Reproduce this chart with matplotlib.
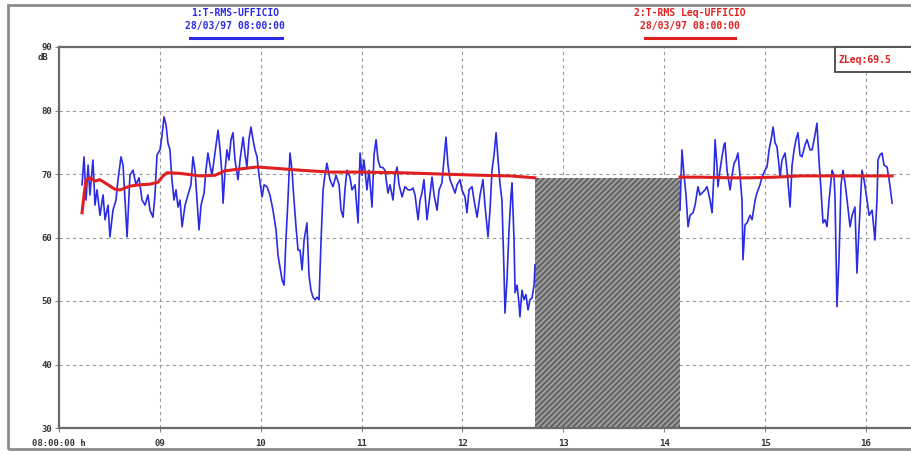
import numpy as np
import matplotlib
matplotlib.use("Agg")
import matplotlib.pyplot as plt
from matplotlib.patches import Rectangle
from matplotlib.lines import Line2D

# ---------------- data (minutes after 08:00:00, level in dB) ----------------
rms_t1 = [13.7, 14.9, 16.1, 17.3, 18.4, 20.2, 21.4, 22.6, 24.4, 26.2, 27.4, 29.2, 30.3, 32.1,
          33.9, 35.1, 36.9, 38.1, 39.3, 40.5, 42.2, 44.0, 45.8, 47.6, 49.4, 51.2, 52.9, 54.1,
          55.9, 57.1, 58.3, 60.1, 61.3, 62.5, 63.7, 64.8, 66.0, 67.2, 68.4, 69.6, 70.8, 72.0,
          73.2, 75.0, 76.7, 78.5, 79.7, 80.9, 82.1, 83.3, 84.5, 86.3, 87.4, 88.6, 89.8, 91.0,
          92.2, 93.4, 94.6, 95.8, 97.0, 97.6, 98.8, 99.9, 101.1, 102.3, 103.5, 104.7, 106.5,
          107.7, 109.5, 110.7, 111.8, 113.0, 114.2, 115.4, 116.6, 117.8, 119.0, 120.8, 122.0,
          123.7, 125.5, 127.3, 129.1, 130.3, 131.5, 132.7, 133.9, 135.0, 136.2, 137.4, 138.6,
          139.8, 141.0, 142.2, 143.4, 144.6, 145.8, 147.5, 148.7, 149.9, 151.1, 152.3, 153.5,
          154.7, 155.9, 157.1, 158.2, 159.4, 161.2, 163.0, 164.8, 166.6, 167.8, 169.0, 170.1,
          171.3, 173.1, 174.3, 176.1, 177.9, 179.1, 180.3, 181.4, 183.2, 184.4, 186.2, 187.4,
          188.6, 189.8, 191.0, 192.7, 193.9, 195.7, 196.9, 198.7, 199.9, 201.1, 202.3, 204.1,
          205.8, 207.6, 209.4, 210.6, 211.8, 213.6, 214.8, 215.9, 217.1, 218.9, 220.7, 221.9,
          223.1, 224.9, 226.1, 227.8, 229.0, 230.2, 231.4, 232.6, 233.8, 235.6, 236.8, 238.6,
          239.7, 241.5, 242.7, 243.9, 245.7, 246.9, 248.7, 250.5, 252.2, 253.4, 255.2, 256.4,
          257.6, 258.8, 260.0, 261.2, 262.4, 263.5, 264.7, 265.3, 266.5, 267.7, 268.9, 269.5,
          270.7, 271.3, 272.5, 273.7, 274.2, 275.4, 276.6, 277.8, 279.0, 280.2, 281.4, 282.6,
          283.2]
rms_v1 = [68.3, 72.7, 65.9, 71.4, 66.7, 72.2, 65.1, 67.5, 63.5, 66.7, 62.8, 65.1, 60.1, 64.3,
          65.9, 69.1, 72.7, 71.4, 65.9, 60.1, 69.8, 70.6, 68.3, 69.4, 65.9, 65.1, 66.7, 64.3,
          63.2, 66.7, 73.0, 73.8, 76.1, 79.0, 77.7, 74.9, 73.8, 69.1, 65.9, 67.5, 64.8, 65.9,
          61.7, 65.1, 66.7, 68.3, 72.7, 70.6, 65.9, 61.2, 65.1, 67.0, 70.6, 73.3, 71.4, 69.8,
          72.2, 74.6, 76.9, 73.8, 69.8, 65.4, 70.6, 73.8, 72.2, 75.4, 76.5, 72.2, 69.1,
          72.2, 75.8, 73.0, 71.1, 75.4, 77.4, 75.4, 73.8, 72.7, 69.8, 66.4, 68.3,
          68.0, 66.7, 64.3, 61.2, 57.2, 55.2, 53.3, 52.5, 59.6, 65.9, 73.3, 70.6,
          65.9, 61.7, 58.0, 58.0, 54.9, 59.6, 62.3, 54.1, 51.7, 50.6, 50.2, 50.6,
          50.2, 59.6, 67.5, 69.8, 71.7, 69.1, 68.0, 69.8, 68.3, 64.3, 63.2, 67.5,
          70.6, 69.5, 67.5, 68.3, 62.3, 73.3, 69.8, 72.2, 67.5, 70.6, 64.8, 73.0,
          75.4, 72.2, 71.1, 71.0, 70.6, 67.0, 68.3, 65.9, 69.8, 71.1, 68.3, 66.4,
          68.0, 67.5, 67.5, 67.8, 66.7, 62.8, 65.9, 67.0, 69.1, 62.8, 66.7, 69.5,
          66.7, 64.3, 67.5, 68.6, 72.2, 75.8, 71.4, 69.1, 68.3, 67.0, 68.3, 69.1,
          67.5, 66.4, 63.9, 67.5, 68.0, 65.9, 63.2, 66.7, 69.1, 65.1, 60.1, 64.3,
          70.6, 73.0, 76.5, 72.2, 68.3, 65.9, 54.9, 48.1, 53.3, 61.2, 66.7, 68.6,
          59.6, 51.3, 52.5, 49.4, 47.5, 51.7, 50.2, 51.0, 48.6, 50.2, 50.5, 52.5,
          55.7]

rms_t2 = [369.4, 370.6, 371.8, 373.0, 374.2, 375.4, 377.2, 378.4, 380.1, 381.3, 382.5, 384.3,
          385.5, 387.3, 388.5, 389.7, 390.3, 391.4, 392.0, 393.2, 394.4, 395.6, 396.2, 397.4,
          399.2, 400.4, 401.6, 402.7, 403.9, 405.1, 406.3, 406.9, 408.1, 409.3, 411.1, 412.3,
          414.1, 415.2, 417.0, 418.2, 420.0, 421.2, 422.4, 423.6, 424.8, 426.0, 427.1, 428.3,
          428.9, 430.1, 431.9, 433.1, 434.9, 436.1, 437.3, 438.4, 439.6, 440.8, 442.0, 443.8,
          445.0, 446.8, 448.0, 449.7, 450.9, 452.1, 453.3, 454.5, 455.7, 456.9, 458.1, 459.9,
          461.0, 461.6, 462.2, 462.8, 464.0, 465.2, 466.4, 467.6, 468.8, 470.6, 471.8, 473.5,
          474.7, 475.9, 477.1, 477.7, 478.9, 480.7, 481.9, 483.7, 485.4, 486.6, 487.2, 488.4,
          489.6, 490.8, 492.6, 493.8, 494.4, 495.6]
rms_v2 = [64.3, 73.8, 69.8, 66.7, 61.7, 63.5, 63.9, 65.1, 68.0, 66.7, 67.0, 67.5,
          68.0, 65.9, 63.9, 70.6, 75.4, 71.4, 68.0, 70.6, 72.7, 74.6, 74.9, 70.6,
          67.5, 69.8, 71.7, 72.2, 73.3, 69.8, 65.9, 56.5, 62.0, 62.3, 63.5, 62.8,
          65.9, 67.0, 68.3, 69.5, 70.6, 71.1, 73.8, 75.4, 77.4, 74.9, 74.3, 71.4,
          69.5, 72.2, 73.3, 70.6, 64.8, 71.4, 73.8, 75.4, 76.5, 73.0, 72.7, 74.6,
          75.4, 73.8, 73.8, 76.1, 78.0, 72.2, 67.5, 62.3, 62.8, 61.7, 65.9, 70.6,
          69.8, 66.7, 58.0, 49.1, 56.5, 68.3, 70.6, 68.6, 65.9, 61.7, 63.5, 64.8,
          54.4, 61.2, 67.5, 70.6, 69.1, 65.9, 63.5, 64.3, 59.6, 65.9, 72.2, 73.0,
          73.3, 71.4, 71.1, 69.1, 68.0, 65.4]

leq_t1 = [13.7, 14.9, 16.1, 18.4, 21.4, 24.4, 27.4, 30.3, 33.3, 36.3, 39.3, 42.2, 48.2, 54.1,
          58.9, 61.9, 64.3, 72.0, 83.9, 92.8, 98.8, 107.7, 117.8, 128.5, 143.4, 161.2, 179.1,
          202.9, 226.7, 250.5, 268.3, 283.2]
leq_v1 = [63.9, 66.7, 69.1, 69.4, 68.9, 69.1, 68.6, 68.1, 67.6, 67.5, 67.8, 68.1, 68.3, 68.4,
          68.7, 69.7, 70.2, 70.1, 69.7, 69.8, 70.5, 70.8, 71.1, 70.9, 70.6, 70.3, 70.3,
          70.2, 70.0, 69.8, 69.7, 69.4]
leq_t2 = [369.4, 381.3, 399.2, 411.1, 426.0, 440.8, 458.7, 476.5, 495.6]
leq_v2 = [69.5, 69.5, 69.4, 69.4, 69.5, 69.7, 69.7, 69.7, 69.7]

gap_start, gap_end, gap_level = 283.2, 369.4, 69.4

y_ticks = [30, 40, 50, 60, 70, 80, 90]
x_ticks = [0, 60, 120, 180, 240, 300, 360, 420, 480]
x_labels = ["08:00:00 h", "09", "10", "11", "12", "13", "14", "15", "16"]
title1 = ["1:T-RMS-UFFICIO", "28/03/97 08:00:00"]
title2 = ["2:T-RMS Leq-UFFICIO", "28/03/97 08:00:00"]
zleq_text = "ZLeq:69.5"

# ---------------- drawing ----------------
W, H = 912, 454
fig = plt.figure(figsize=(W / 100, H / 100), dpi=100)
fig.patch.set_facecolor("white")

BLUE = "#2b2be6"
RED = "#e02020"
mono = "DejaVu Sans Mono"

# outer frame
fig.add_artist(Rectangle((8 / W, 1 - 449 / H), 1.2, (449 - 5) / H, transform=fig.transFigure,
                         fill=False, edgecolor="#8c8c8c", linewidth=2.0))

ax_left = 59 / W
ax_bottom = 1 - 428 / H
ax_top = 1 - 47 / H
ax_right_px = 930
ax = fig.add_axes([ax_left, ax_bottom, (ax_right_px - 59) / W, ax_top - ax_bottom])
ax.set_xlim(0, (ax_right_px - 59) * 60 / 100.86)
ax.set_ylim(30, 90)

for s in ax.spines.values():
    s.set_color("#6a6a6a")
    s.set_linewidth(1.6)

ax.set_yticks(y_ticks)
ax.set_yticklabels([str(v) for v in y_ticks], fontfamily=mono, fontweight="bold",
                   fontsize=6.5, color="#333333")
ax.set_xticks(x_ticks)
ax.set_xticklabels(x_labels, fontfamily=mono, fontweight="bold", fontsize=6.5, color="#333333")
ax.tick_params(axis="both", length=3, width=0.8, color="#888888", pad=2)
ax.tick_params(axis="x", pad=5)
ax.text(-0.012, 88.3, "dB", transform=ax.get_yaxis_transform(), ha="right", va="center",
        fontfamily=mono, fontweight="bold", fontsize=6.5, color="#333333")

# grid
for yv in y_ticks[1:-1]:
    ax.axhline(yv, color="#9a9a9a", linewidth=0.8, linestyle=(0, (3, 3)), zorder=1)
for xv in x_ticks[1:]:
    ax.axvline(xv, color="#9a9a9a", linewidth=0.8, linestyle=(0, (3, 3)), zorder=1)

# gap (no data) region
plt.rcParams["hatch.color"] = "#5c5c5c"
plt.rcParams["hatch.linewidth"] = 1.2
gap = Rectangle((gap_start, 30), gap_end - gap_start, gap_level - 30, facecolor="#9a9a9a",
                edgecolor="#5c5c5c", hatch="//////", linewidth=0, zorder=2)
ax.add_patch(gap)

# series
ax.plot(rms_t1, rms_v1, color=BLUE, linewidth=1.2, zorder=3)
ax.plot(rms_t2, rms_v2, color=BLUE, linewidth=1.2, zorder=3)
ax.plot(leq_t1, leq_v1, color=RED, linewidth=2.2, zorder=4)
ax.plot(leq_t2, leq_v2, color=RED, linewidth=2.2, zorder=4)

# legend titles
def title_block(cx, lines, color, line_x0, line_x1):
    fig.text(cx / W, 1 - 13 / H, lines[0], ha="center", va="center", color=color,
             fontfamily=mono, fontweight="bold", fontsize=7)
    fig.text(cx / W, 1 - 26 / H, lines[1], ha="center", va="center", color=color,
             fontfamily=mono, fontweight="bold", fontsize=7)
    fig.add_artist(Line2D([line_x0 / W, line_x1 / W], [1 - 38 / H, 1 - 38 / H],
                          transform=fig.transFigure, color=color, linewidth=2.2))

title_block(235, title1, BLUE, 190, 282)
title_block(690, title2, RED, 645, 735)

# ZLeq box
fig.add_artist(Rectangle((835 / W, 1 - 72 / H), 0.2, 25 / H, transform=fig.transFigure,
                         fill=True, facecolor="white", edgecolor="#555555", linewidth=1.4,
                         zorder=5))
fig.text(839 / W, 1 - 60 / H, zleq_text, ha="left", va="center", color=RED,
         fontfamily=mono, fontweight="bold", fontsize=7, zorder=6)

fig.savefig("out.png", dpi=100)
